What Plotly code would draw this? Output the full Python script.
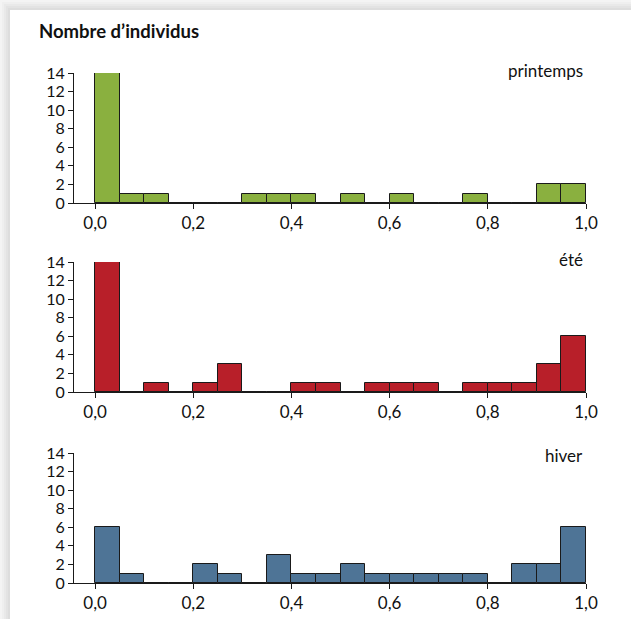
import numpy as np
import plotly.graph_objects as go

# ---- data ----
bin_width = 0.05
bin_left = [0.00, 0.05, 0.10, 0.15, 0.20, 0.25, 0.30, 0.35, 0.40, 0.45,
            0.50, 0.55, 0.60, 0.65, 0.70, 0.75, 0.80, 0.85, 0.90, 0.95]
printemps = [14, 1, 1, 0, 0, 0, 1, 1, 1, 0, 1, 0, 1, 0, 0, 1, 0, 0, 2, 2]
ete =       [14, 0, 1, 0, 1, 3, 0, 0, 1, 1, 0, 1, 1, 1, 0, 1, 1, 1, 3, 6]
hiver =     [6, 1, 0, 0, 2, 1, 0, 3, 1, 1, 2, 1, 1, 1, 1, 1, 0, 2, 2, 6]
series_names = ["printemps", "été", "hiver"]
series_values = [printemps, ete, hiver]
series_colors = ["#8ab03f", "#b81f29", "#4e7496"]
x_ticks = [0.0, 0.2, 0.4, 0.6, 0.8, 1.0]
y_ticks = [0, 2, 4, 6, 8, 10, 12, 14]

W, H = 631, 619
FONT = "Lato, 'Liberation Sans', Arial, sans-serif"

centers = np.array(bin_left) + bin_width / 2

fig = go.Figure()

# panel pixel geometry (top, bottom) of plot areas
panels_px = [(73, 203), (262, 392), (453, 583)]
x0_px, x1_px = 74, 586

layout = dict(
    width=W, height=H,
    margin=dict(l=0, r=0, t=0, b=0, autoexpand=False),
    paper_bgcolor="#ededed",
    plot_bgcolor="rgba(0,0,0,0)",
    showlegend=False,
    separators=", ",
    font=dict(family=FONT, size=17, color="#111111"),
    bargap=0,
)

annotations = []
for i, (name, vals, col) in enumerate(zip(series_names, series_values, series_colors)):
    xa = "x" if i == 0 else f"x{i+1}"
    ya = "y" if i == 0 else f"y{i+1}"
    fig.add_trace(go.Bar(
        x=centers, y=vals, width=bin_width,
        marker=dict(color=col, line=dict(color="#1a1a1a", width=1)),
        xaxis=xa, yaxis=ya, hoverinfo="skip",
    ))
    top, bot = panels_px[i]
    xkey = "xaxis" if i == 0 else f"xaxis{i+1}"
    ykey = "yaxis" if i == 0 else f"yaxis{i+1}"
    layout[xkey] = dict(
        domain=[x0_px / W, x1_px / W],
        range=[-0.043, 1.0],
        anchor=ya, automargin=False,
        tickvals=x_ticks, tickformat=".1f",
        showline=True, linecolor="#1a1a1a", linewidth=1,
        ticks="outside", ticklen=5, tickcolor="#1a1a1a",
        showgrid=False, zeroline=False,
        tickfont=dict(size=17),
    )
    layout[ykey] = dict(
        domain=[1 - bot / H, 1 - top / H],
        range=[0, 14],
        anchor=xa, automargin=False,
        tickvals=y_ticks,
        showline=True, linecolor="#1a1a1a", linewidth=1,
        ticks="outside", ticklen=5, tickcolor="#1a1a1a",
        showgrid=False, zeroline=False,
        tickfont=dict(size=16),
    )
    label_y = [70, 260, 455][i]
    annotations.append(dict(
        text=name, xref="paper", yref="paper",
        x=585 / W, y=1 - label_y / H, xanchor="right", yanchor="middle",
        showarrow=False, font=dict(size=17, color="#111111"),
    ))

annotations.append(dict(
    text="<b>Nombre d’individus</b>", xref="paper", yref="paper",
    x=37 / W, y=1 - 31 / H, xanchor="left", yanchor="middle",
    showarrow=False, font=dict(size=18.5, color="#111111"),
))
layout["annotations"] = annotations

# card with soft shadow
shapes = []
shades = ["#f4f4f4", "#efefef", "#e9e9e9", "#e3e3e3", "#dddddd"]
for k, c in enumerate(shades):
    off = 2 * k
    shapes.append(dict(type="rect", xref="paper", yref="paper", layer="below",
                       x0=off / W, x1=1.2, y0=-0.2, y1=1 - off / H,
                       fillcolor=c, line=dict(width=0)))
shapes.append(dict(type="rect", xref="paper", yref="paper", layer="below",
                   x0=10 / W, x1=1.2, y0=-0.2, y1=1 - 10 / H,
                   fillcolor="#ffffff", line=dict(width=0)))
layout["shapes"] = shapes

fig.update_layout(**layout)
fig.write_html(
    "out.html",
    config={"displayModeBar": False},
    post_script="document.body.style.margin='0';document.body.style.overflow='hidden';",
)
